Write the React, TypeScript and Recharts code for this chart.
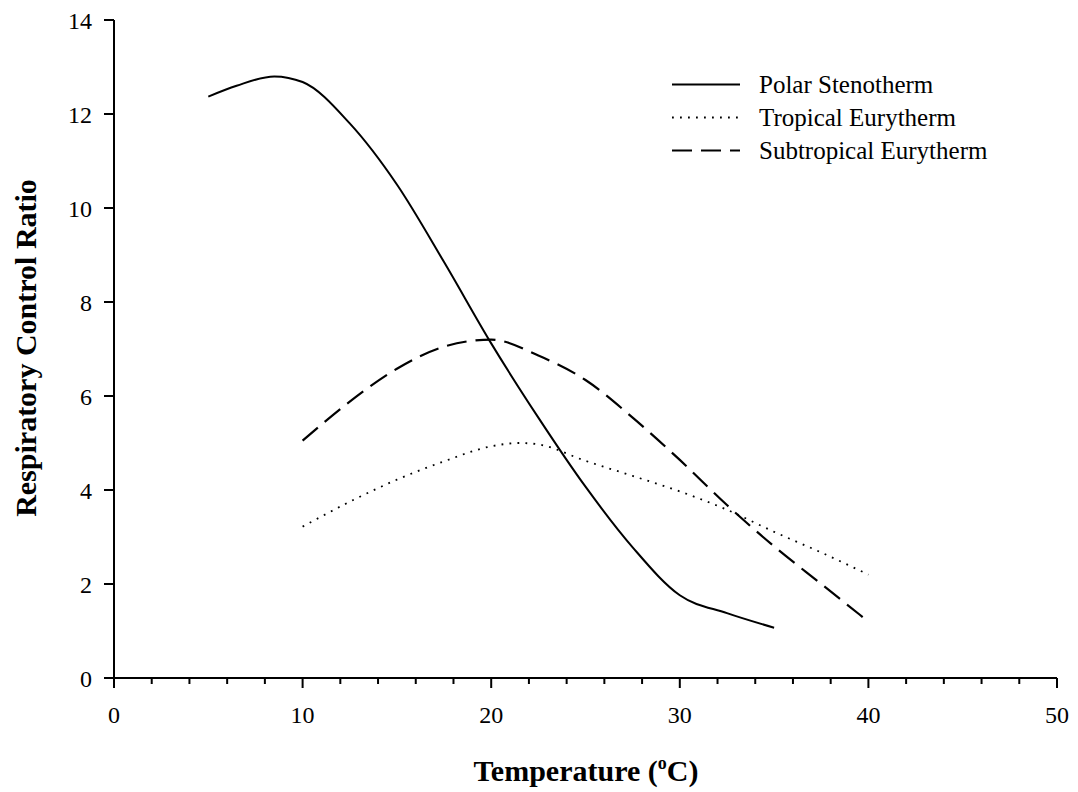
import { Legend, Line, LineChart, XAxis, YAxis } from "recharts";

// values
const polarTemps = [5, 6.5, 8.5, 10, 12.5, 15, 17.5, 20, 22.5, 25, 27.5, 30, 32.5, 35];
const polarRcr = [12.37, 12.6, 12.8, 12.68, 11.8, 10.5, 8.85, 7.12, 5.54, 4.07, 2.78, 1.76, 1.38, 1.07];

const tropicalTemps = [10, 12.5, 15, 17.5, 20, 21.5, 22.5, 25, 27.5, 30, 32.5, 35, 37.5, 40];
const tropicalRcr = [3.22, 3.75, 4.22, 4.61, 4.93, 5.0, 4.97, 4.62, 4.3, 3.97, 3.58, 3.11, 2.67, 2.2];

const subtropicalTemps = [10, 12.5, 15, 17.5, 20, 22.5, 25, 27.5, 30, 32.5, 35, 37.5, 40];
const subtropicalRcr = [5.05, 5.88, 6.58, 7.05, 7.2, 6.86, 6.34, 5.54, 4.64, 3.68, 2.8, 2.0, 1.2];

const xTicks = [0, 2, 4, 6, 8, 10, 12, 14, 16, 18, 20, 22, 24, 26, 28, 30, 32, 34, 36, 38, 40, 42, 44, 46, 48, 50];
const yTicks = [0, 2, 4, 6, 8, 10, 12, 14];

const FONT = '"Liberation Serif", "Times New Roman", serif';

const toPoints = (xs: number[], ys: number[]) => xs.map((x, i) => ({ x, y: ys[i] }));

const series = [
  { name: "Polar Stenotherm", data: toPoints(polarTemps, polarRcr), dash: undefined, width: 2 },
  { name: "Tropical Eurytherm", data: toPoints(tropicalTemps, tropicalRcr), dash: "1.8 6.2", width: 1.8 },
  { name: "Subtropical Eurytherm", data: toPoints(subtropicalTemps, subtropicalRcr), dash: "20 9", width: 2.2 },
];

function XTick(props: any) {
  const { x, y, payload } = props;
  const major = payload.value % 10 === 0;
  return (
    <g>
      <line x1={x} y1={y} x2={x} y2={y + (major ? 10 : 6)} stroke="#000" strokeWidth={2} />
      {major && (
        <text x={x} y={y + 45} textAnchor="middle" fontSize={24} fontFamily={FONT} fill="#000">
          {payload.value}
        </text>
      )}
    </g>
  );
}

function LegendBox() {
  return (
    <div style={{ fontFamily: FONT, fontSize: 25, color: "#000" }}>
      {series.map((s) => (
        <div key={s.name} style={{ display: "flex", alignItems: "center", height: 33 }}>
          <svg width={70} height={33}>
            <line x1={2} y1={16.5} x2={70} y2={16.5} stroke="#000" strokeWidth={s.width} strokeDasharray={s.dash} />
          </svg>
          <span style={{ marginLeft: 19, whiteSpace: "nowrap" }}>{s.name}</span>
        </div>
      ))}
    </div>
  );
}

export default function App() {
  return (
    <div style={{ position: "absolute", left: 0, top: 0, background: "#fff" }}>
      <LineChart width={1078} height={792} margin={{ top: 20, right: 21, left: 0, bottom: 0 }}>
        <XAxis
          type="number"
          dataKey="x"
          domain={[0, 50]}
          ticks={xTicks}
          interval={0}
          tickLine={false}
          tickSize={0}
          tickMargin={0}
          tick={<XTick />}
          height={114}
          axisLine={{ stroke: "#000", strokeWidth: 2 }}
          label={{
            content: () => (
              <text x={586} y={781} textAnchor="middle" fontFamily={FONT} fontSize={30} fontWeight="bold" fill="#000">
                Temperature (
                <tspan dy={-12} fontSize={18}>o</tspan>
                <tspan dy={12}>C)</tspan>
              </text>
            ),
          }}
        />
        <YAxis
          type="number"
          domain={[0, 14]}
          ticks={yTicks}
          interval={0}
          width={114}
          tickSize={10}
          tickMargin={12}
          tickLine={{ stroke: "#000", strokeWidth: 2 }}
          axisLine={{ stroke: "#000", strokeWidth: 2 }}
          tick={{ fill: "#000", fontSize: 24, fontFamily: FONT }}
          label={{
            content: () => (
              <text
                x={36}
                y={348}
                transform="rotate(-90 36 348)"
                textAnchor="middle"
                fontFamily={FONT}
                fontSize={30}
                fontWeight="bold"
                fill="#000"
              >
                Respiratory Control Ratio
              </text>
            ),
          }}
        />
        <Legend
          layout="vertical"
          align="center"
          verticalAlign="middle"
          content={() => <LegendBox />}
          wrapperStyle={{ top: 68, left: 670, width: 380 }}
        />
        {series.map((s) => (
          <Line
            key={s.name}
            name={s.name}
            data={s.data}
            dataKey="y"
            type="monotone"
            stroke="#000"
            strokeWidth={s.width}
            strokeDasharray={s.dash}
            dot={false}
            activeDot={false}
            isAnimationActive={false}
          />
        ))}
      </LineChart>
    </div>
  );
}
